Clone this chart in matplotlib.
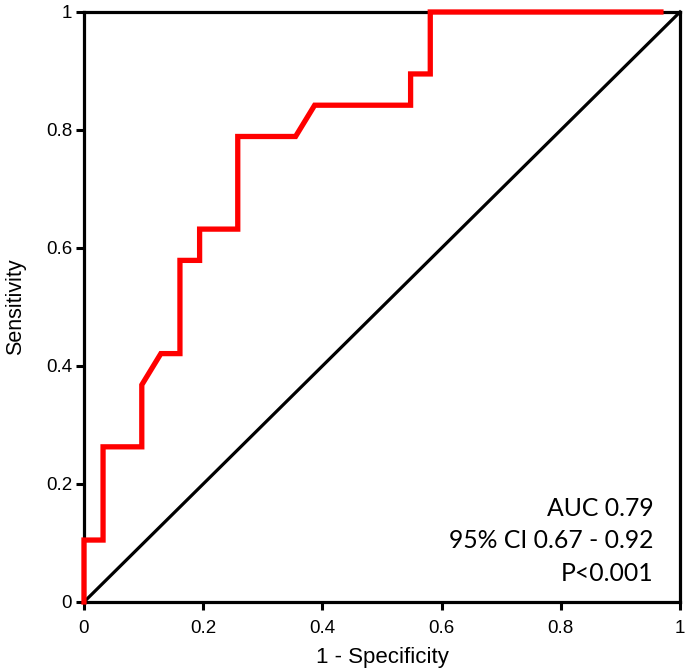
import matplotlib.pyplot as plt

# ROC curve points (1 - specificity, sensitivity)
fpr = [0.0, 0.0, 0.032, 0.032, 0.097, 0.097, 0.129, 0.161, 0.161, 0.194, 0.194,
       0.258, 0.258, 0.355, 0.387, 0.548, 0.548, 0.581, 0.581, 0.968]
tpr = [0.0, 0.105, 0.105, 0.263, 0.263, 0.368, 0.421, 0.421, 0.579, 0.579, 0.632,
       0.632, 0.789, 0.789, 0.842, 0.842, 0.895, 0.895, 1.0, 1.0]
ref_line = [0, 1]
ticks = [0, 0.2, 0.4, 0.6, 0.8, 1]
tick_labels = ["0", "0.2", "0.4", "0.6", "0.8", "1"]
stats_text = ["AUC 0.79", "95% CI 0.67 - 0.92", "P<0.001"]

plt.rcParams["font.family"] = ["Liberation Sans", "DejaVu Sans"]

fig = plt.figure(figsize=(6.85, 6.70), dpi=100)
ax = fig.add_axes([0.1226, 0.1015, 0.8701, 0.8806])

ax.plot(ref_line, ref_line, color="black", lw=2.3, zorder=2, clip_on=False)
ax.plot(fpr, tpr, color="#ff0000", lw=3.8, zorder=4, clip_on=False,
        solid_joinstyle="miter")

ax.set_xlim(0, 1)
ax.set_ylim(0, 1)
ax.set_xticks(ticks)
ax.set_xticklabels(tick_labels)
ax.set_yticks(ticks)
ax.set_yticklabels(tick_labels)
ax.tick_params(direction="out", length=6, width=2.2, labelsize=13.5)
ax.tick_params(axis="x", pad=7)
ax.tick_params(axis="y", pad=2.5)

for sp in ax.spines.values():
    sp.set_linewidth(2.3)
    sp.set_zorder(3)

ax.set_xlabel("1 - Specificity", fontsize=16, labelpad=7)
ax.set_ylabel("Sensitivity", fontsize=15.5, labelpad=14)

for i, line in enumerate(stats_text):
    ax.text(0.955, 0.159 - i * 0.055, line, transform=ax.transAxes,
            ha="right", va="center", fontsize=17.8, family=["Lato", "DejaVu Sans"])

fig.savefig("out.png", dpi=100)
